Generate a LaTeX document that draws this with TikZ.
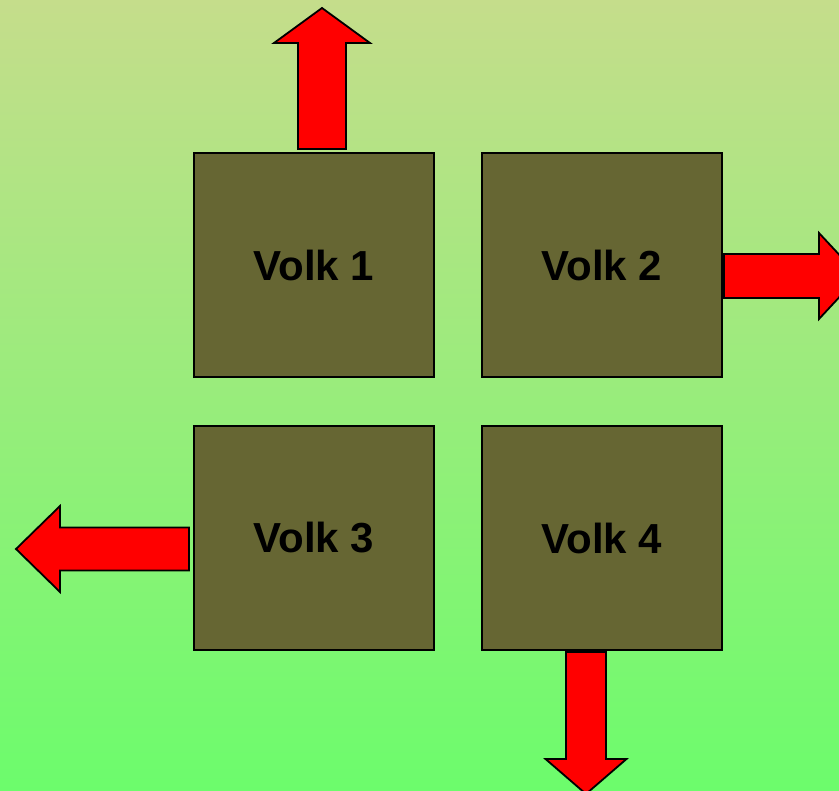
\documentclass[tikz,border=0pt]{standalone}
\usepackage{fontspec}
\setmainfont{Liberation Sans}
\usepackage{tikz}
\usetikzlibrary{calc, positioning}

\definecolor{bgtop}{RGB}{197,221,139}
\definecolor{bgbottom}{RGB}{108,252,108}
\definecolor{volkfill}{RGB}{102,102,51}

\tikzset{
	volkbox/.style = {draw = black, line width = 2pt, fill = volkfill, minimum width = 240pt, minimum height = 224pt, inner sep = 0pt, font = \fontsize{42}{48}\selectfont\bfseries},
	blockarrow/.style = {draw = black, line width = 1.8pt, fill = red, line join = miter}
}

\begin{document}
\begin{tikzpicture}[x = 1pt, y = -1pt]
						\begin{scope}
							\shade [top color = bgtop, bottom color = bgbottom] (0,0) rectangle (839,791);
							\useasboundingbox (0,0) rectangle (839,791);
						\end{scope}
						\clip (0,0) rectangle (839,791);

						\node [volkbox] (volk1) at (314,265) {Volk 1};
						\node [volkbox, right = 46pt of volk1] (volk2) {Volk 2};
						\node [volkbox, below = 47pt of volk1] (volk3) {Volk 3};
						\node [volkbox, right = 46pt of volk3] (volk4) {Volk 4};

						\coordinate (out1) at ($(volk1.north)+(8,-3)$);
						\coordinate (out2) at ($(volk2.east)+(1,11)$);
						\coordinate (out3) at ($(volk3.west)+(-4,11)$);
						\coordinate (out4) at ($(volk4.south)+(-16,1)$);

						% upwards from Volk 1
						\draw [blockarrow, shift = {(out1)}] (-24,0) -- (-24,-106) -- (-48,-106) -- (0,-141) -- (48,-106) -- (24,-106) -- (24,0) -- cycle;
						% to the right from Volk 2
						\draw [blockarrow, shift = {(out2)}] (0,-22) -- (95,-22) -- (95,-43) -- (135,0) -- (95,43) -- (95,22) -- (0,22) -- cycle;
						% to the left from Volk 3
						\draw [blockarrow, shift = {(out3)}] (0,-21.5) -- (-129,-21.5) -- (-129,-43) -- (-173,0) -- (-129,43) -- (-129,21.5) -- (0,21.5) -- cycle;
						% downwards from Volk 4
						\draw [blockarrow, shift = {(out4)}] (-20,0) -- (-20,107) -- (-40.5,107) -- (0,142) -- (40.5,107) -- (20,107) -- (20,0) -- cycle;
					\end{tikzpicture}
\end{document}
